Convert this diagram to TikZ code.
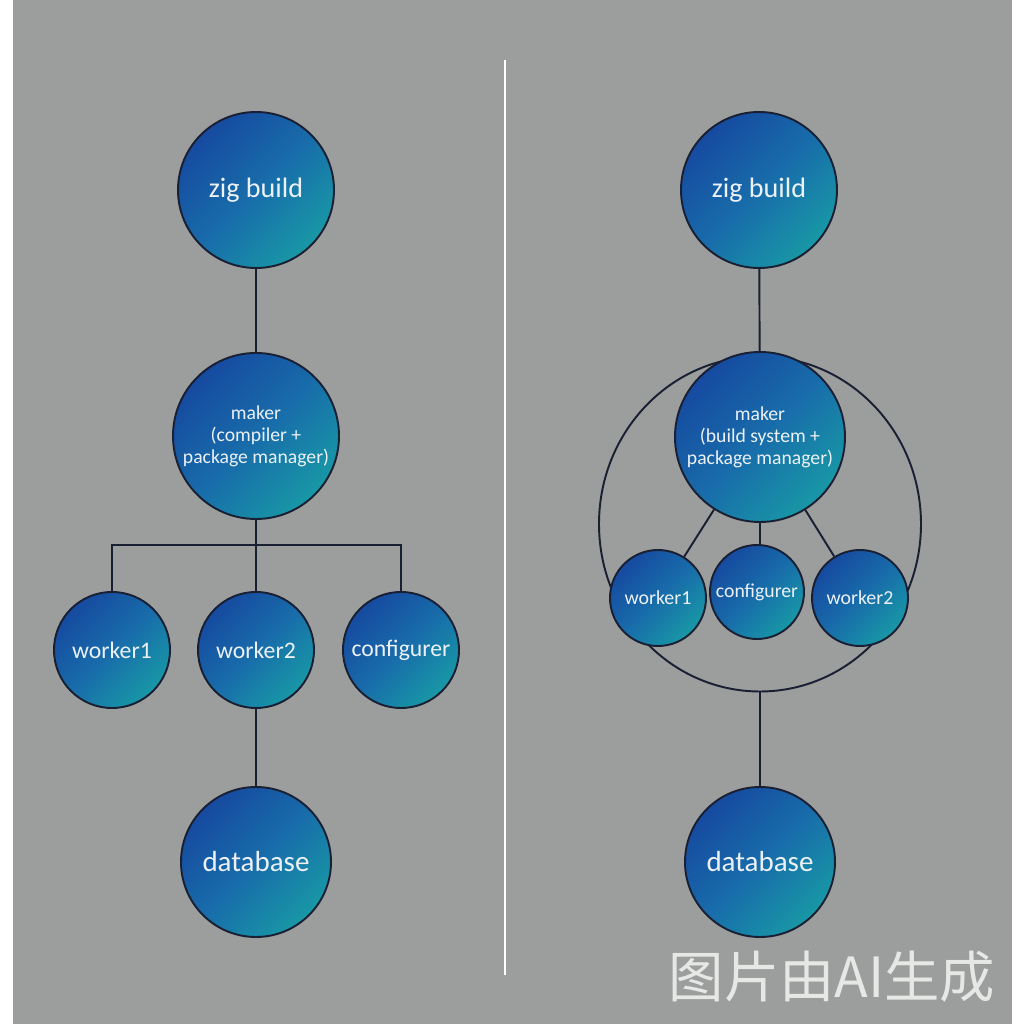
\documentclass[tikz,border=0pt]{standalone}
\usepackage{fontspec}
\setmainfont{Carlito}
\newfontfamily\cjkfont{Noto Sans CJK SC}
\usetikzlibrary{shapes.geometric}
\definecolor{bgGray}{RGB}{155,158,156}
\definecolor{deepBlue}{RGB}{22,74,160}
\definecolor{midBlue}{RGB}{24,108,170}
\definecolor{tealBlue}{RGB}{24,152,166}
\definecolor{inkLine}{RGB}{26,32,52}
\definecolor{softWhite}{RGB}{236,241,246}
\definecolor{markGray}{RGB}{230,232,230}
\tikzset{
  ball/.style={circle, draw=inkLine, line width=1.1pt, top color=deepBlue,
    bottom color=tealBlue, middle color=midBlue, shading angle=45,
    text=softWhite, align=center, inner sep=0pt},
  link/.style={draw=inkLine, line width=1.1pt},
}

\begin{document}
\begin{tikzpicture}[scale=1.0]
  %% 1. Canvas
  \useasboundingbox (0,0) rectangle (20.48,20.48);
  \fill[white] (0,0) rectangle (20.48,20.48);
  \fill[bgGray] (0.26,0) rectangle (20.24,20.48);
  \draw[white, line width=1.2pt] (10.1,19.28) -- (10.1,0.98);

  %% 2. Left tree
  \node[ball, minimum size=3.12cm, font=\fontsize{16}{18}\selectfont] (zigL) at (5.12,16.68) {zig build};
  \node[ball, minimum size=3.32cm, font=\fontsize{11.2}{12.5}\selectfont] (makL) at (5.12,11.76) {maker\\(compiler +\\package manager)};
  \node[ball, minimum size=2.32cm, font=\fontsize{13.5}{15}\selectfont] (w1L) at (2.24,7.48) {worker1};
  \node[ball, minimum size=2.32cm, font=\fontsize{13.5}{15}\selectfont] (w2L) at (5.12,7.48) {worker2};
  \node[ball, minimum size=2.32cm, font=\fontsize{13.5}{15}\selectfont] (cfgL) at (8.02,7.48) {configurer};
  \node[ball, minimum size=3.0cm, font=\fontsize{16.5}{18}\selectfont] (dbL) at (5.12,3.24) {database};
  \coordinate (busL) at (5.12,9.58);

  \draw[link] (zigL) -- (makL);
  \draw[link] (makL.south) -- (busL);
  \draw[link] (w1L.north) |- (busL) -| (cfgL.north);
  \draw[link] (busL) -- (w2L.north);
  \draw[link] (w2L) -- (dbL);

  %% 3. Right tree
  \node[ellipse, draw=inkLine, line width=1.1pt, minimum width=6.44cm, minimum height=6.7cm] (ring) at (15.2,10.0) {};
  \node[ball, minimum size=3.12cm, font=\fontsize{16}{18}\selectfont] (zigR) at (15.18,16.68) {zig build};
  \node[ball, minimum size=3.4cm, font=\fontsize{11.2}{12.5}\selectfont] (makR) at (15.2,11.74) {maker\\(build system +\\package manager)};
  \node[ball, minimum size=1.92cm, font=\fontsize{11.3}{13}\selectfont] (w1R) at (13.16,8.52) {worker1};
  \node[ball, minimum size=1.88cm, font=\fontsize{11.2}{13}\selectfont] (cfgR) at (15.14,8.64) {configurer};
  \node[ball, minimum size=1.92cm, font=\fontsize{11.3}{13}\selectfont] (w2R) at (17.2,8.52) {worker2};
  \node[ball, minimum size=3.0cm, font=\fontsize{16.5}{18}\selectfont] (dbR) at (15.2,3.24) {database};

  \draw[link] (zigR) -- (makR);
  \draw[link] (makR) -- (w1R);
  \draw[link] (makR.south) -- (makR.south |- cfgR.north);
  \draw[link] (makR) -- (w2R);
  \draw[link] (ring.south) -- (dbR);

  %% 4. Watermark
  \node[text=markGray, font=\cjkfont\fontsize{31.5}{34}\selectfont] (mark) at (16.64,0.94) {图片由AI生成};
\end{tikzpicture}
\end{document}
